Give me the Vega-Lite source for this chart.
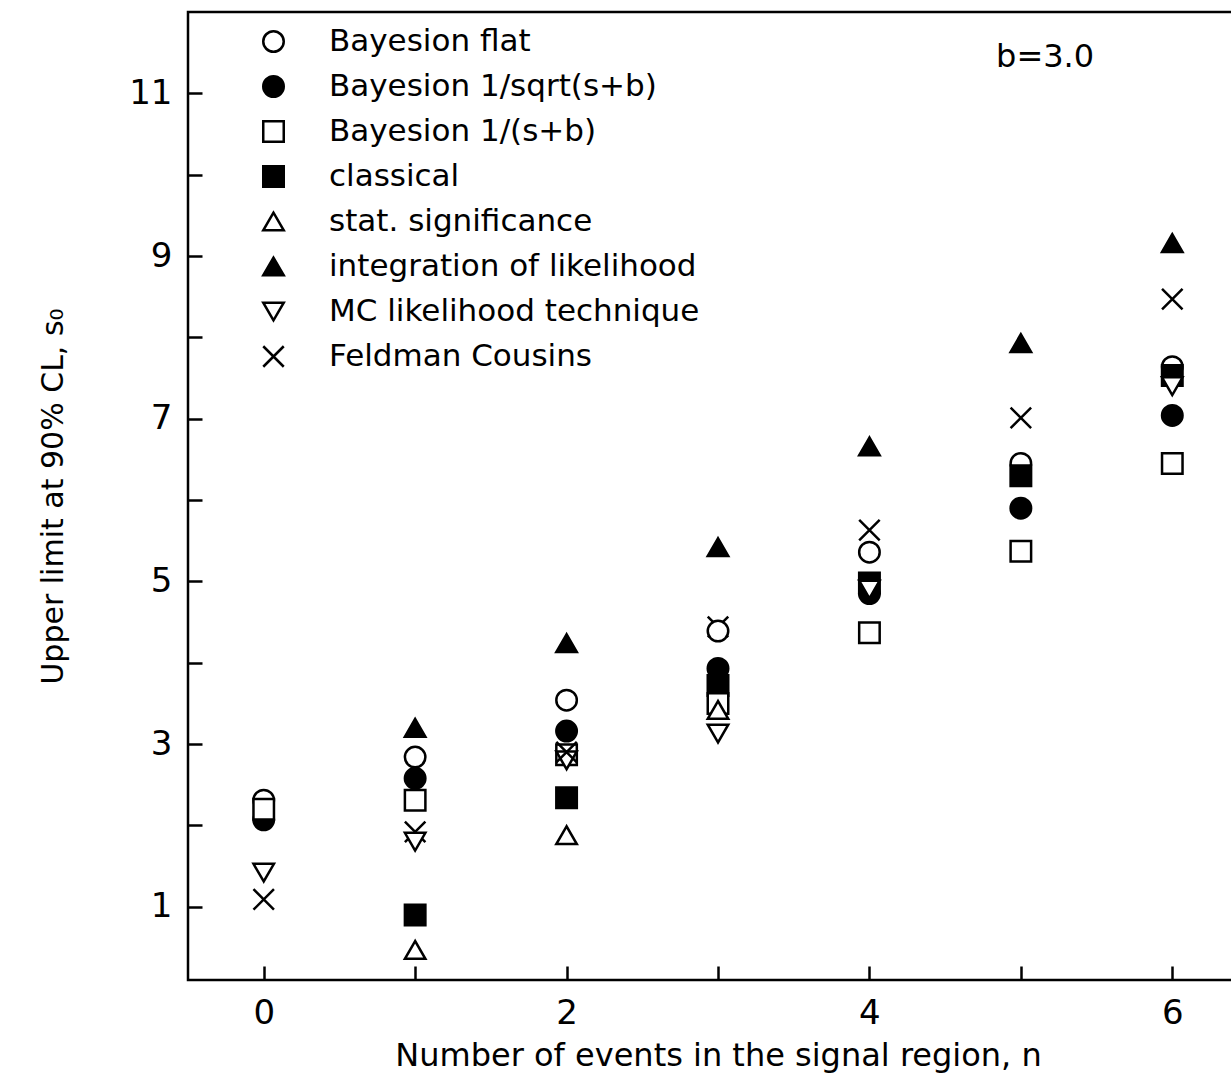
{
  "$schema": "https://vega.github.io/schema/vega-lite/v6.json",
  "width": 1060, "height": 968,
  "autosize": {"type": "none"},
  "padding": {"left": 188, "top": 12, "right": 0, "bottom": 107},
  "background": "white",
  "config": {"font": "DejaVu Sans", "view": {"stroke": "black", "strokeWidth": 2.5}},
  "datasets": {
    "pts": [
      {"n":0,"ul":2.31,"m":"Bayesion flat"},
      {"n":0,"ul":2.07,"m":"Bayesion 1/sqrt(s+b)"},
      {"n":0,"ul":2.2,"m":"Bayesion 1/(s+b)"},
      {"n":0,"ul":1.42,"m":"MC likelihood technique"},
      {"n":0,"ul":1.09,"m":"Feldman Cousins"},
      {"n":1,"ul":3.2,"m":"integration of likelihood"},
      {"n":1,"ul":2.84,"m":"Bayesion flat"},
      {"n":1,"ul":2.58,"m":"Bayesion 1/sqrt(s+b)"},
      {"n":1,"ul":2.31,"m":"Bayesion 1/(s+b)"},
      {"n":1,"ul":1.92,"m":"Feldman Cousins"},
      {"n":1,"ul":1.8,"m":"MC likelihood technique"},
      {"n":1,"ul":0.9,"m":"classical"},
      {"n":1,"ul":0.47,"m":"stat. significance"},
      {"n":2,"ul":4.24,"m":"integration of likelihood"},
      {"n":2,"ul":3.54,"m":"Bayesion flat"},
      {"n":2,"ul":3.16,"m":"Bayesion 1/sqrt(s+b)"},
      {"n":2,"ul":2.87,"m":"Bayesion 1/(s+b)"},
      {"n":2,"ul":2.8,"m":"MC likelihood technique"},
      {"n":2,"ul":2.9,"m":"Feldman Cousins"},
      {"n":2,"ul":2.34,"m":"classical"},
      {"n":2,"ul":1.88,"m":"stat. significance"},
      {"n":3,"ul":5.42,"m":"integration of likelihood"},
      {"n":3,"ul":4.44,"m":"Feldman Cousins"},
      {"n":3,"ul":4.39,"m":"Bayesion flat"},
      {"n":3,"ul":3.93,"m":"Bayesion 1/sqrt(s+b)"},
      {"n":3,"ul":3.72,"m":"classical"},
      {"n":3,"ul":3.5,"m":"Bayesion 1/(s+b)"},
      {"n":3,"ul":3.42,"m":"stat. significance"},
      {"n":3,"ul":3.13,"m":"MC likelihood technique"},
      {"n":4,"ul":6.66,"m":"integration of likelihood"},
      {"n":4,"ul":5.63,"m":"Feldman Cousins"},
      {"n":4,"ul":5.36,"m":"Bayesion flat"},
      {"n":4,"ul":4.98,"m":"classical"},
      {"n":4,"ul":4.85,"m":"Bayesion 1/sqrt(s+b)"},
      {"n":4,"ul":4.9,"m":"MC likelihood technique"},
      {"n":4,"ul":4.37,"m":"Bayesion 1/(s+b)"},
      {"n":5,"ul":7.93,"m":"integration of likelihood"},
      {"n":5,"ul":7.01,"m":"Feldman Cousins"},
      {"n":5,"ul":6.45,"m":"Bayesion flat"},
      {"n":5,"ul":6.3,"m":"classical"},
      {"n":5,"ul":5.9,"m":"Bayesion 1/sqrt(s+b)"},
      {"n":5,"ul":5.37,"m":"Bayesion 1/(s+b)"},
      {"n":6,"ul":9.16,"m":"integration of likelihood"},
      {"n":6,"ul":8.47,"m":"Feldman Cousins"},
      {"n":6,"ul":7.64,"m":"Bayesion flat"},
      {"n":6,"ul":7.53,"m":"classical"},
      {"n":6,"ul":7.4,"m":"MC likelihood technique"},
      {"n":6,"ul":7.04,"m":"Bayesion 1/sqrt(s+b)"},
      {"n":6,"ul":6.45,"m":"Bayesion 1/(s+b)"}
    ],
    "lab": [{"x": 5.16, "y": 11.45, "t": "b=3.0"}]
  },
  "layer": [
    {
      "data": {"name": "pts"},
      "mark": {"type": "point", "strokeWidth": 2.5, "size": 420, "filled": true},
      "encoding": {
        "x": {"field": "n", "type": "quantitative", "scale": {"domain": [-0.5, 6.5]},
          "axis": {"values": [0,1,2,3,4,5,6], "format": "d", "labelExpr": "datum.value % 2 == 0 ? datum.label : ''", "tickSize": -14, "tickWidth": 2.5, "domain": false, "grid": false, "labelFontSize": 34, "labelPadding": 30, "labelColor": "black", "tickColor": "black", "title": "Number of events in the signal region, n", "titleFontSize": 32, "titleFontWeight": "normal", "titlePadding": 10, "titleColor": "black"}},
        "y": {"field": "ul", "type": "quantitative", "scale": {"domain": [0.1, 12], "nice": false, "zero": false},
          "axis": {"values": [1,1.5,2,2.5,3,3.5,4,4.5,5,5.5,6,6.5,7,7.5,8,8.5,9,9.5,10,10.5,11,11.5], "format": "d", "labelExpr": "datum.value % 2 == 1 ? datum.label : ''", "tickSize": -14, "tickWidth": 2.5, "domain": false, "grid": false, "labelFontSize": 34, "labelPadding": 30, "labelColor": "black", "tickColor": "black", "title": "Upper limit at 90% CL, s₀", "titleFontSize": 30, "titleFontWeight": "normal", "titlePadding": 60, "titleColor": "black"}},
        "opacity": {"value": 1},
        "shape": {"field": "m", "type": "nominal",
          "scale": {"domain": ["Bayesion flat","Bayesion 1/sqrt(s+b)","Bayesion 1/(s+b)","classical","stat. significance","integration of likelihood","MC likelihood technique","Feldman Cousins"],
            "range": ["circle","circle","square","square","triangle-up","triangle-up","triangle-down","M-1,-1L1,1M1,-1L-1,1"]},
          "legend": {"orient": "none", "legendX": 70, "legendY": 14, "title": null, "labelFontSize": 31, "labelColor": "black", "symbolSize": 420, "symbolStrokeWidth": 2.5, "symbolOpacity": 1, "rowPadding": 13, "labelOffset": 40, "labelLimit": 600}},
        "fill": {"field": "m", "type": "nominal",
          "scale": {"domain": ["Bayesion flat","Bayesion 1/sqrt(s+b)","Bayesion 1/(s+b)","classical","stat. significance","integration of likelihood","MC likelihood technique","Feldman Cousins"],
            "range": ["white","black","white","black","white","black","white","white"]}},
        "stroke": {"field": "m", "type": "nominal",
          "scale": {"domain": ["Bayesion flat","Bayesion 1/sqrt(s+b)","Bayesion 1/(s+b)","classical","stat. significance","integration of likelihood","MC likelihood technique","Feldman Cousins"],
            "range": ["black","black","black","black","black","black","black","black"]}}
      }
    },
    {
      "data": {"name": "lab"},
      "mark": {"type": "text", "fontSize": 32, "color": "black", "align": "center"},
      "encoding": {"x": {"field": "x", "type": "quantitative"}, "y": {"field": "y", "type": "quantitative"}, "text": {"field": "t"}}
    }
  ]
}
